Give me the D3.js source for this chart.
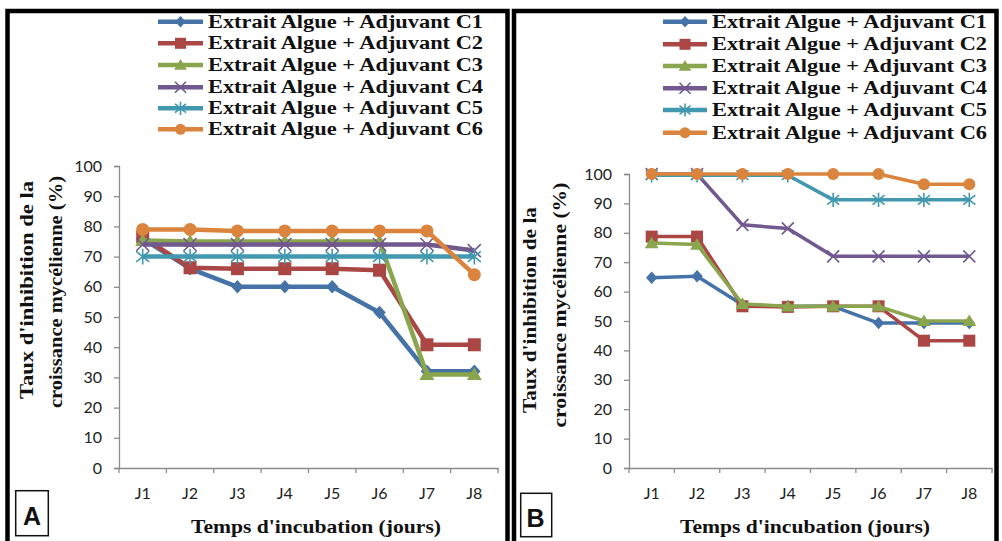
<!DOCTYPE html>
<html><head><meta charset="utf-8">
<script src="https://cdn.jsdelivr.net/npm/d3@7"></script>
<style>body{margin:0;background:#fff;overflow:hidden}</style></head>
<body>
<svg id="c" width="1002" height="541"></svg>
<script>
// ---------- DATA ----------
const categories = ["J1","J2","J3","J4","J5","J6","J7","J8"];
const yTicks = [0,10,20,30,40,50,60,70,80,90,100];
const seriesNames = [
  "Extrait Algue + Adjuvant C1","Extrait Algue + Adjuvant C2","Extrait Algue + Adjuvant C3",
  "Extrait Algue + Adjuvant C4","Extrait Algue + Adjuvant C5","Extrait Algue + Adjuvant C6"];
const panelLabels = ["A","B"];
const yTitleLines = ["Taux d'inhibition de la","croissance mycélienne (%)"];
const xTitle = "Temps d'incubation (jours)";

const panelA_C1 = [76, 66, 60, 60, 60, 51.5, 32, 32];
const panelA_C2 = [76.5, 66.3, 66, 66, 66, 65.5, 40.8, 40.8];
const panelA_C3 = [75.3, 75, 75, 75, 75, 75, 31, 31];
const panelA_C4 = [74, 74, 74, 74, 74, 74, 74, 72];
const panelA_C5 = [70, 70, 70, 70, 70, 70, 70, 70];
const panelA_C6 = [79, 79, 78.5, 78.5, 78.5, 78.5, 78.5, 64];

const panelB_C1 = [64.7, 65.2, 55.5, 55, 55, 49.3, 49.3, 49.3];
const panelB_C2 = [78.7, 78.7, 55, 54.8, 55, 55, 43.3, 43.3];
const panelB_C3 = [76.5, 76, 55.8, 55, 55, 55, 50, 50];
const panelB_C4 = [100, 100, 82.7, 81.5, 72, 72, 72, 72];
const panelB_C5 = [99.6, 99.6, 99.6, 99.6, 91.2, 91.2, 91.2, 91.2];
const panelB_C6 = [100, 100, 100, 100, 100, 100, 96.5, 96.5];

// ---------- STYLE ----------
const colors = ["#4572A7","#AA4643","#89A54E","#71588F","#4198AF","#DB843D"];
const markers = ["diamond","square","triangle","x","star","circle"];
const axisColor = "#8c8c8c";

const panels = [
  { series:[panelA_C1,panelA_C2,panelA_C3,panelA_C4,panelA_C5,panelA_C6],
    x0:119, x1:498, y0:468, y1:166, lw:4.5, ms:6.5,
    border:{x:7.5,w:500,},
    legLine:[158,203], legText:208, legRows:[21.7,43.3,65,87.3,108.3,129.3],
    yt:[{x:33, y:290, len:218},{x:62, y:292, len:232}], xtX:316,
    box:{x:15.7,y:490.7,w:32.6,h:45}, boxText:{x:32,y:525}},
  { series:[panelB_C1,panelB_C2,panelB_C3,panelB_C4,panelB_C5,panelB_C6],
    x0:629, x1:992, y0:468, y1:174, lw:3.5, ms:6,
    border:{x:514,w:482.5},
    legLine:[663,707], legText:712, legRows:[21.7,44.3,66,88.3,110,132.7],
    yt:[{x:536, y:310, len:206},{x:566, y:305, len:245}], xtX:805,
    box:{x:520.7,y:493.3,w:31,h:43.4}, boxText:{x:535.5,y:526.5}}
];

const svg = d3.select("#c");

function markerPath(type, s){
  switch(type){
    case "diamond": return `M0,${-s*1.05}L${s*0.95},0L0,${s*1.05}L${-s*0.95},0Z`;
    case "square": return `M${-s},${-s}H${s}V${s}H${-s}Z`;
    case "triangle": return `M0,${-s*1.1}L${s*1.15},${s*0.85}L${-s*1.15},${s*0.85}Z`;
    case "x": return `M${-s},${-s}L${s},${s}M${-s},${s}L${s},${-s}`;
    case "star": return `M${-s},${-s*0.8}L${s},${s*0.8}M${-s},${s*0.8}L${s},${-s*0.8}M0,${-s*1.2}V${s*1.2}`;
  }
}
function drawMarker(g, type, color, x, y, s){
  if(type==="circle"){
    g.append("circle").attr("cx",x).attr("cy",y).attr("r",s).attr("fill",color);
  } else if(type==="x"||type==="star"){
    g.append("path").attr("transform",`translate(${x},${y})`).attr("d",markerPath(type,s))
      .attr("fill","none").attr("stroke",color).attr("stroke-width",1.6);
  } else {
    g.append("path").attr("transform",`translate(${x},${y})`).attr("d",markerPath(type,s)).attr("fill",color);
  }
}

panels.forEach((p,pi)=>{
  const g = svg.append("g");
  // border
  g.append("path")
    .attr("d",`M${p.border.x},545V11H${p.border.x+p.border.w}V545`)
    .attr("fill","none").attr("stroke","#000").attr("stroke-width",4.5);

  const x = d3.scaleBand().domain(categories).range([p.x0,p.x1]).padding(0);
  const y = d3.scaleLinear().domain([0,100]).range([p.y0,p.y1]);

  // y axis
  const ya = g.append("g").attr("transform",`translate(${p.x0},0)`)
    .call(d3.axisLeft(y).tickValues(yTicks).tickSize(5).tickPadding(12));
  ya.select(".domain").attr("stroke",axisColor).attr("stroke-width",1.3);
  ya.selectAll(".tick line").attr("stroke",axisColor).attr("stroke-width",1.3);
  ya.selectAll(".tick text").attr("fill","#222").attr("font-family","Lato, 'Open Sans', sans-serif")
    .attr("font-size",16);

  // x axis
  const xa = g.append("g").attr("transform",`translate(0,${p.y0})`)
    .call(d3.axisBottom(x).tickSize(0).tickPadding(20));
  xa.select(".domain").attr("stroke",axisColor).attr("stroke-width",1.3);
  xa.selectAll(".tick text").attr("fill","#222").attr("font-family","Lato, 'Open Sans', sans-serif")
    .attr("font-size",16);
  // boundary ticks
  const bounds = categories.map(c=>x(c)).concat([p.x1]);
  xa.selectAll(".bt").data(bounds).enter().append("line")
    .attr("x1",d=>d).attr("x2",d=>d).attr("y1",0).attr("y2",5)
    .attr("stroke",axisColor).attr("stroke-width",1.3);

  // series
  const line = d3.line().x((d,i)=>x(categories[i])+x.bandwidth()/2).y(d=>y(d));
  p.series.forEach((vals,si)=>{
    const sg = g.append("g");
    sg.append("path").datum(vals).attr("d",line).attr("fill","none")
      .attr("stroke",colors[si]).attr("stroke-width",p.lw).attr("stroke-linejoin","round");
    vals.forEach((v,i)=>{
      drawMarker(sg, markers[si], colors[si], x(categories[i])+x.bandwidth()/2, y(v), p.ms);
    });
  });

  // legend
  seriesNames.forEach((name,si)=>{
    const cy = p.legRows[si];
    g.append("line").attr("x1",p.legLine[0]).attr("x2",p.legLine[1]).attr("y1",cy).attr("y2",cy)
      .attr("stroke",colors[si]).attr("stroke-width",4.5);
    drawMarker(g, markers[si], colors[si], (p.legLine[0]+p.legLine[1])/2, cy, 5.5);
    g.append("text").attr("x",p.legText).attr("y",cy+6)
      .attr("font-family","'Liberation Serif','Times New Roman',serif").attr("font-weight","bold")
      .attr("font-size",18).attr("textLength",275).attr("lengthAdjust","spacingAndGlyphs")
      .attr("fill","#111").text(name);
  });

  // y title
  p.yt.forEach((pos,li)=>{
    g.append("text").attr("transform",`translate(${pos.x},${pos.y}) rotate(-90)`)
      .attr("text-anchor","middle")
      .attr("font-family","'Liberation Serif','Times New Roman',serif").attr("font-weight","bold")
      .attr("font-size",19).attr("textLength",pos.len).attr("lengthAdjust","spacingAndGlyphs")
      .attr("fill","#111").text(yTitleLines[li]);
  });

  // x title
  g.append("text").attr("x",p.xtX).attr("y",533).attr("text-anchor","middle")
    .attr("font-family","'Liberation Serif','Times New Roman',serif").attr("font-weight","bold")
    .attr("font-size",19).attr("textLength",250).attr("lengthAdjust","spacingAndGlyphs")
    .attr("fill","#111").text(xTitle);

  // panel label box
  g.append("rect").attr("x",p.box.x).attr("y",p.box.y).attr("width",p.box.w).attr("height",p.box.h)
    .attr("fill","#fff").attr("stroke","#111").attr("stroke-width",1.5);
  g.append("text").attr("x",p.boxText.x).attr("y",p.boxText.y).attr("text-anchor","middle")
    .attr("font-family","'Liberation Sans',Arial,sans-serif").attr("font-weight","bold")
    .attr("font-size",25).attr("fill","#111").text(panelLabels[pi]);
});
</script>
</body></html>
